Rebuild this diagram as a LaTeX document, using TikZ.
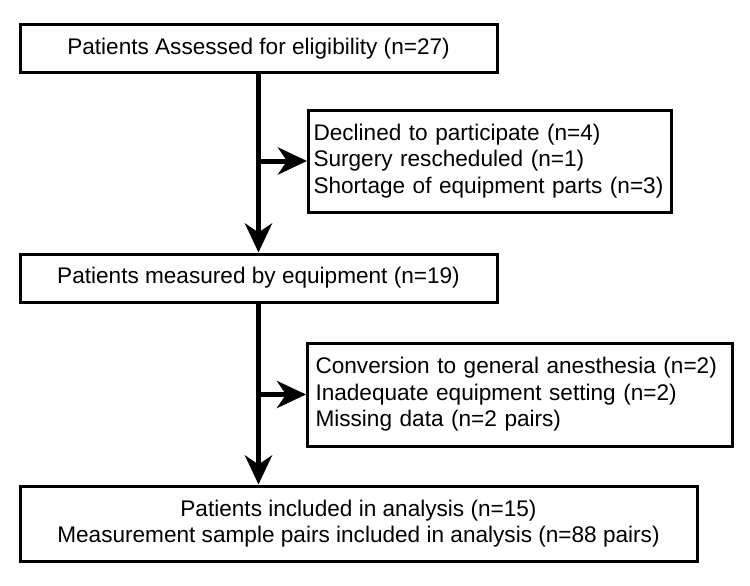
\documentclass[tikz,border=0pt]{standalone}
\usepackage{fontspec}
\setmainfont{Liberation Sans}
\usetikzlibrary{arrows.meta}

\begin{document}
\begin{tikzpicture}[x=1pt,y=-1pt,font=\fontsize{22.6}{26.5}\selectfont,
 b/.style={draw,line width=3pt,inner sep=0pt,align=center},
 s/.style={draw,line width=3pt,inner xsep=8pt,inner ysep=0pt,align=left,anchor=west},
 ar/.style={line width=5pt,-{Stealth[length=29pt,width=27pt,inset=9pt]}}]
\useasboundingbox (0,0) rectangle (750,586);
\node[b,minimum width=477pt,minimum height=48pt] (b1) at (258.5,49) {Patients Assessed for eligibility (n=27)};
\node[b,minimum width=477pt,minimum height=48pt] (b2) at (258.5,278) {Patients measured by equipment (n=19)};
\node[b,minimum width=677pt,minimum height=75pt] (b3) at (358.5,523.5) {Patients included in analysis (n=15)\\Measurement sample pairs included in analysis (n=88 pairs)};
\node[s,inner xsep=5pt,text width=353pt,minimum height=102pt] (s1) at (307,161) {Declined to participate (n=4)\\Surgery rescheduled (n=1)\\Shortage of equipment parts (n=3)};
\node[s,text width=409pt,minimum height=103pt] (s2) at (306,394.5) {Conversion to general anesthesia (n=2)\\Inadequate equipment setting (n=2)\\Missing data (n=2 pairs)};
\coordinate (j1) at (b1.south |- s1.west);
\coordinate (j2) at (b2.south |- s2.west);
\draw[ar] (b1.south) -- (b2.north);
\draw[ar] (b2.south) -- (b2.south |- b3.north);
\draw[ar] ([xshift=-2.5pt]j1) -- (s1.west);
\draw[ar] ([xshift=-2.5pt]j2) -- (s2.west);
\end{tikzpicture}
\end{document}
